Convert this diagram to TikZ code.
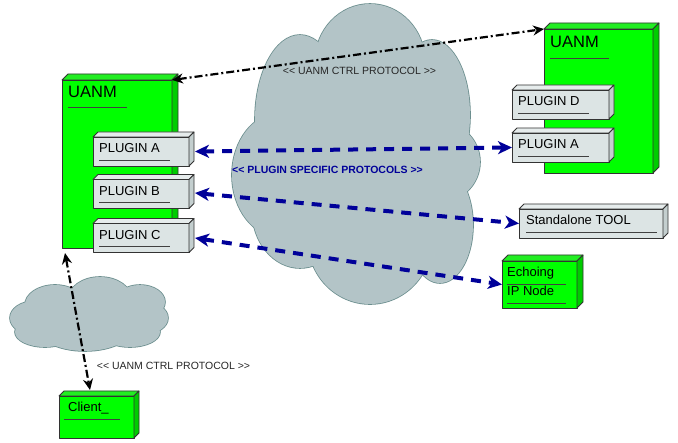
\documentclass[tikz,border=0pt]{standalone}
\usepackage{fontspec}
\setmainfont{Liberation Sans}
\usetikzlibrary{arrows.meta}
\definecolor{cloudfill}{HTML}{B3C4C7}
\definecolor{cloudline}{HTML}{6B8E8E}
\definecolor{nodegreen}{HTML}{00FF00}
\definecolor{greentop}{HTML}{22EE22}
\definecolor{greenside}{HTML}{00CC00}
\definecolor{plugfill}{HTML}{DCE4E4}
\definecolor{plugtop}{HTML}{E6ECEC}
\definecolor{plugside}{HTML}{C4CFCF}
\definecolor{navyline}{HTML}{000099}
\tikzset{
  boxline/.style={draw=black!80, line width=0.8pt, line join=round},
  greenbox/.style={boxline, fill=nodegreen, inner sep=0pt, outer sep=0pt},
  plugbox/.style={boxline, fill=plugfill, inner sep=0pt, outer sep=0pt},
  lbl/.style={inner sep=0pt, anchor=base west, font=\fontsize{13}{15}\selectfont},
  biglbl/.style={inner sep=0pt, anchor=base west, font=\fontsize{16.5}{19}\selectfont},
  uline/.style={draw=black!75, line width=0.9pt},
  ctrlarrow/.style={draw=black, line width=2.2pt, dash pattern=on 8pt off 3pt on 2pt off 3pt,
    {Stealth[length=11pt,width=10pt]}-{Stealth[length=11pt,width=10pt]}},
  navyarrow/.style={draw=navyline, line width=4pt, dash pattern=on 10pt off 8pt,
    {Stealth[length=14pt,width=13pt,inset=4pt]}-{Stealth[length=14pt,width=13pt,inset=4pt]}},
  ctrllbl/.style={inner sep=0pt, text=black!85, font=\fontsize{10.5}{12}\selectfont},
  pluglbl/.style={inner sep=0pt, text=navyline, font=\bfseries\fontsize{10.5}{12}\selectfont},
  cloudedge/.style={draw=cloudline, line width=1.6pt},
  cloudin/.style={fill=cloudfill}
}
\newcommand\cubefaces[4]{%
  \draw[boxline, fill=#3] (#1.north west) -- ++(#2,-#2) -- ([shift={(#2,-#2)}]#1.north east) -- (#1.north east) -- cycle;
  \draw[boxline, fill=#4] (#1.north east) -- ++(#2,-#2) -- ([shift={(#2,-#2)}]#1.south east) -- (#1.south east) -- cycle;}
\newcommand\lt{<\kern0pt<}
\newcommand\gt{>\kern0pt>}
\begin{document}
\begin{tikzpicture}[x=1pt,y=-1pt]
\useasboundingbox (0,0) rectangle (678,443);
% big cloud
\foreach \cx/\cy/\rx/\ry in {370/62/55/58, 300/120/45/85, 432/115/38/75, 280/175/48/62,
  300/210/48/58, 440/162/40/40, 440/225/33/58, 370/240/62/64, 360/160/80/100}
  \draw[cloudedge] (\cx,\cy) ellipse [x radius=\rx, y radius=\ry];
\foreach \cx/\cy/\rx/\ry in {370/62/55/58, 300/120/45/85, 432/115/38/75, 280/175/48/62,
  300/210/48/58, 440/162/40/40, 440/225/33/58, 370/240/62/64, 360/160/80/100}
  \fill[cloudin] (\cx,\cy) ellipse [x radius=\rx, y radius=\ry];
% small cloud
\foreach \cx/\cy/\rx/\ry in {100/300/32/23, 55/305/30/20, 140/302/25/17, 35/318/25/17,
  145/318/23/16, 85/325/50/26, 45/332/30/15, 130/332/30/15}
  \draw[cloudedge] (\cx,\cy) ellipse [x radius=\rx, y radius=\ry];
\foreach \cx/\cy/\rx/\ry in {100/300/32/23, 55/305/30/20, 140/302/25/17, 35/318/25/17,
  145/318/23/16, 85/325/50/26, 45/332/30/15, 130/332/30/15}
  \fill[cloudin] (\cx,\cy) ellipse [x radius=\rx, y radius=\ry];

% left UANM
\node[greenbox, minimum width=110pt, minimum height=168pt] (lua) at (117,164) {};
\cubefaces{lua}{6}{greentop}{greenside}
\node[biglbl] (luat) at (68,98) {UANM};
\draw[uline] (68,107) -- (127,107);
% left plugins
\node[plugbox, minimum width=96pt, minimum height=29pt] (pa) at (141,151.5) {};
\cubefaces{pa}{5}{plugtop}{plugside}
\node[lbl] (pat) at (99,153) {PLUGIN A};
\draw[uline] (99,160) -- (170,160);
\node[plugbox, minimum width=96pt, minimum height=29pt] (pb) at (141,194) {};
\cubefaces{pb}{5}{plugtop}{plugside}
\node[lbl] (pbt) at (99,195.5) {PLUGIN B};
\draw[uline] (99,202.5) -- (170,202.5);
\node[plugbox, minimum width=96pt, minimum height=29pt] (pc) at (141,238) {};
\cubefaces{pc}{5}{plugtop}{plugside}
\node[lbl] (pct) at (99,239.5) {PLUGIN C};
\draw[uline] (99,246.5) -- (170,246.5);

% right UANM
\node[greenbox, minimum width=109pt, minimum height=144pt] (rua) at (598.5,101) {};
\cubefaces{rua}{6}{greentop}{greenside}
\node[biglbl] (ruat) at (550,48) {UANM};
\draw[uline] (550,58) -- (609,58);
\node[plugbox, minimum width=97pt, minimum height=29pt] (rpd) at (560.5,104.5) {};
\cubefaces{rpd}{5}{plugtop}{plugside}
\node[lbl] (rpdt) at (518,106) {PLUGIN D};
\draw[uline] (518,113) -- (589,113);
\node[plugbox, minimum width=97pt, minimum height=29pt] (rpa) at (560.5,147.5) {};
\cubefaces{rpa}{5}{plugtop}{plugside}
\node[lbl] (rpat) at (518,149) {PLUGIN A};
\draw[uline] (518,156) -- (589,156);

% standalone tool
\node[plugbox, minimum width=144pt, minimum height=29pt] (st) at (591,223.5) {};
\cubefaces{st}{5}{plugtop}{plugside}
\node[lbl] (stt) at (526,225) {Standalone TOOL};
\draw[uline] (526,232) -- (657,232);

% echoing IP node
\node[greenbox, minimum width=75pt, minimum height=47pt] (ech) at (539.5,284.5) {};
\cubefaces{ech}{6}{greentop}{greenside}
\node[lbl] (echt1) at (507,277) {Echoing};
\draw[uline] (507,284) -- (566,284);
\node[lbl] (echt2) at (507,296) {IP Node};
\draw[uline] (507,303) -- (566,303);

% client
\node[greenbox, minimum width=75pt, minimum height=42pt] (cl) at (96.5,417) {};
\cubefaces{cl}{5}{greentop}{greenside}
\node[lbl] (clt) at (68,412) {Client\_};
\draw[uline] (64,419) -- (120,419);

% connectors
\coordinate (ca) at (65,253);
\coordinate (cb) at (90,390);
\draw[ctrlarrow] (lua.north east) -- (rua.north west);
\draw[ctrlarrow] (ca) -- (cb);
\draw[navyarrow] ([xshift=6pt]pa.east) -- (rpa.west);
\draw[navyarrow] ([xshift=6pt,yshift=1pt]pb.east) -- (st.west);
\draw[navyarrow] ([xshift=6pt]pc.east) -- (ech.west);

% labels
\node[ctrllbl] (l1) at (359.5,71) {\lt{} UANM CTRL PROTOCOL \gt};
\node[pluglbl] (l2) at (327.5,169.5) {\lt{} PLUGIN SPECIFIC PROTOCOLS \gt};
\node[ctrllbl] (l3) at (173.5,366) {\lt{} UANM CTRL PROTOCOL \gt};
\end{tikzpicture}
\end{document}
